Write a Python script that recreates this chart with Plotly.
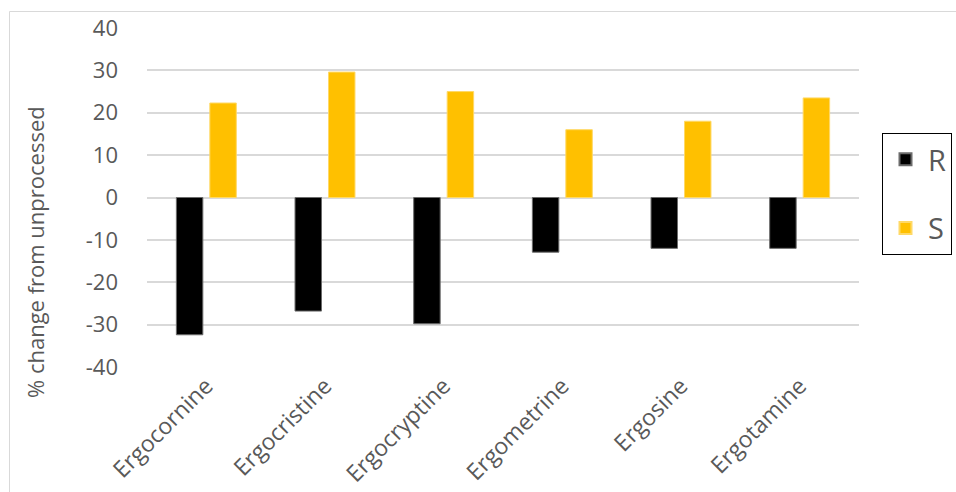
import plotly.graph_objects as go

# Ergot alkaloid change after processing, by epimer form
alkaloids = ["Ergocornine", "Ergocristine", "Ergocryptine", "Ergometrine", "Ergosine", "Ergotamine"]
r_change = [-32.4, -26.8, -29.8, -12.9, -12.0, -12.0]
s_change = [22.3, 29.6, 25.0, 16.0, 18.0, 23.5]
y_ticks = [-40, -30, -20, -10, 0, 10, 20, 30, 40]

W, H = 956, 492
ML, MR, MT, MB = 147, 97, 28, 125
pw, ph = W - ML - MR, H - MT - MB

text_color = "#595959"
font_family = "Open Sans, Noto Sans, sans-serif"

fig = go.Figure()
fig.add_trace(go.Bar(
    x=alkaloids, y=r_change, name="R", legendgroup="R",
    marker=dict(color="#000000", line=dict(color="#6b6b6b", width=1)),
))
fig.add_trace(go.Bar(
    x=alkaloids, y=s_change, name="S", legendgroup="S",
    marker=dict(color="#FFC000", line=dict(color="#FFD966", width=1)),
))

# pixel -> paper coordinate helpers
def px_x(p):
    return (p - ML) / pw

def px_y(p):
    return (H - MB - p) / ph

# light outer frame around the whole chart
fig.add_shape(type="rect", xref="paper", yref="paper",
              x0=px_x(9.5), x1=px_x(960), y0=px_y(11.5), y1=px_y(500),
              line=dict(color="#d9d9d9", width=1), fillcolor="rgba(0,0,0,0)", layer="below")

# y-axis title, centred on the full chart height
fig.add_annotation(
    text="% change from unprocessed", xref="paper", yref="paper",
    x=px_x(35), y=px_y(252), xanchor="center", yanchor="middle",
    textangle=-90, showarrow=False,
    font=dict(size=22, color=text_color, family=font_family),
)

fig.update_layout(
    width=W, height=H,
    margin=dict(l=ML, r=MR, t=MT, b=MB, pad=0, autoexpand=False),
    paper_bgcolor="white", plot_bgcolor="white",
    barmode="group", bargap=0.436, bargroupgap=0.209,
    font=dict(family=font_family, color=text_color),
    showlegend=True,
    legend=dict(
        x=px_x(882), y=px_y(133), xanchor="left", yanchor="top",
        bordercolor="#000000", borderwidth=1, bgcolor="white",
        font=dict(size=29, color=text_color, family=font_family),
        itemsizing="constant", tracegroupgap=28, itemwidth=35,
    ),
    xaxis=dict(
        automargin=False,
        tickangle=-45, tickfont=dict(size=23, color=text_color),
        showgrid=False, showline=False, zeroline=False, ticks="",
    ),
    yaxis=dict(
        automargin=False,
        range=[-40, 40], tickvals=y_ticks, ticktext=[str(v) for v in y_ticks],
        tickfont=dict(size=22, color=text_color),
        showgrid=True, gridcolor="#d9d9d9", gridwidth=1.5,
        zeroline=True, zerolinecolor="#d9d9d9", zerolinewidth=1.5,
        showline=False, ticks="", ticklabelstandoff=28,
    ),
)

fig.write_html("out.html")
